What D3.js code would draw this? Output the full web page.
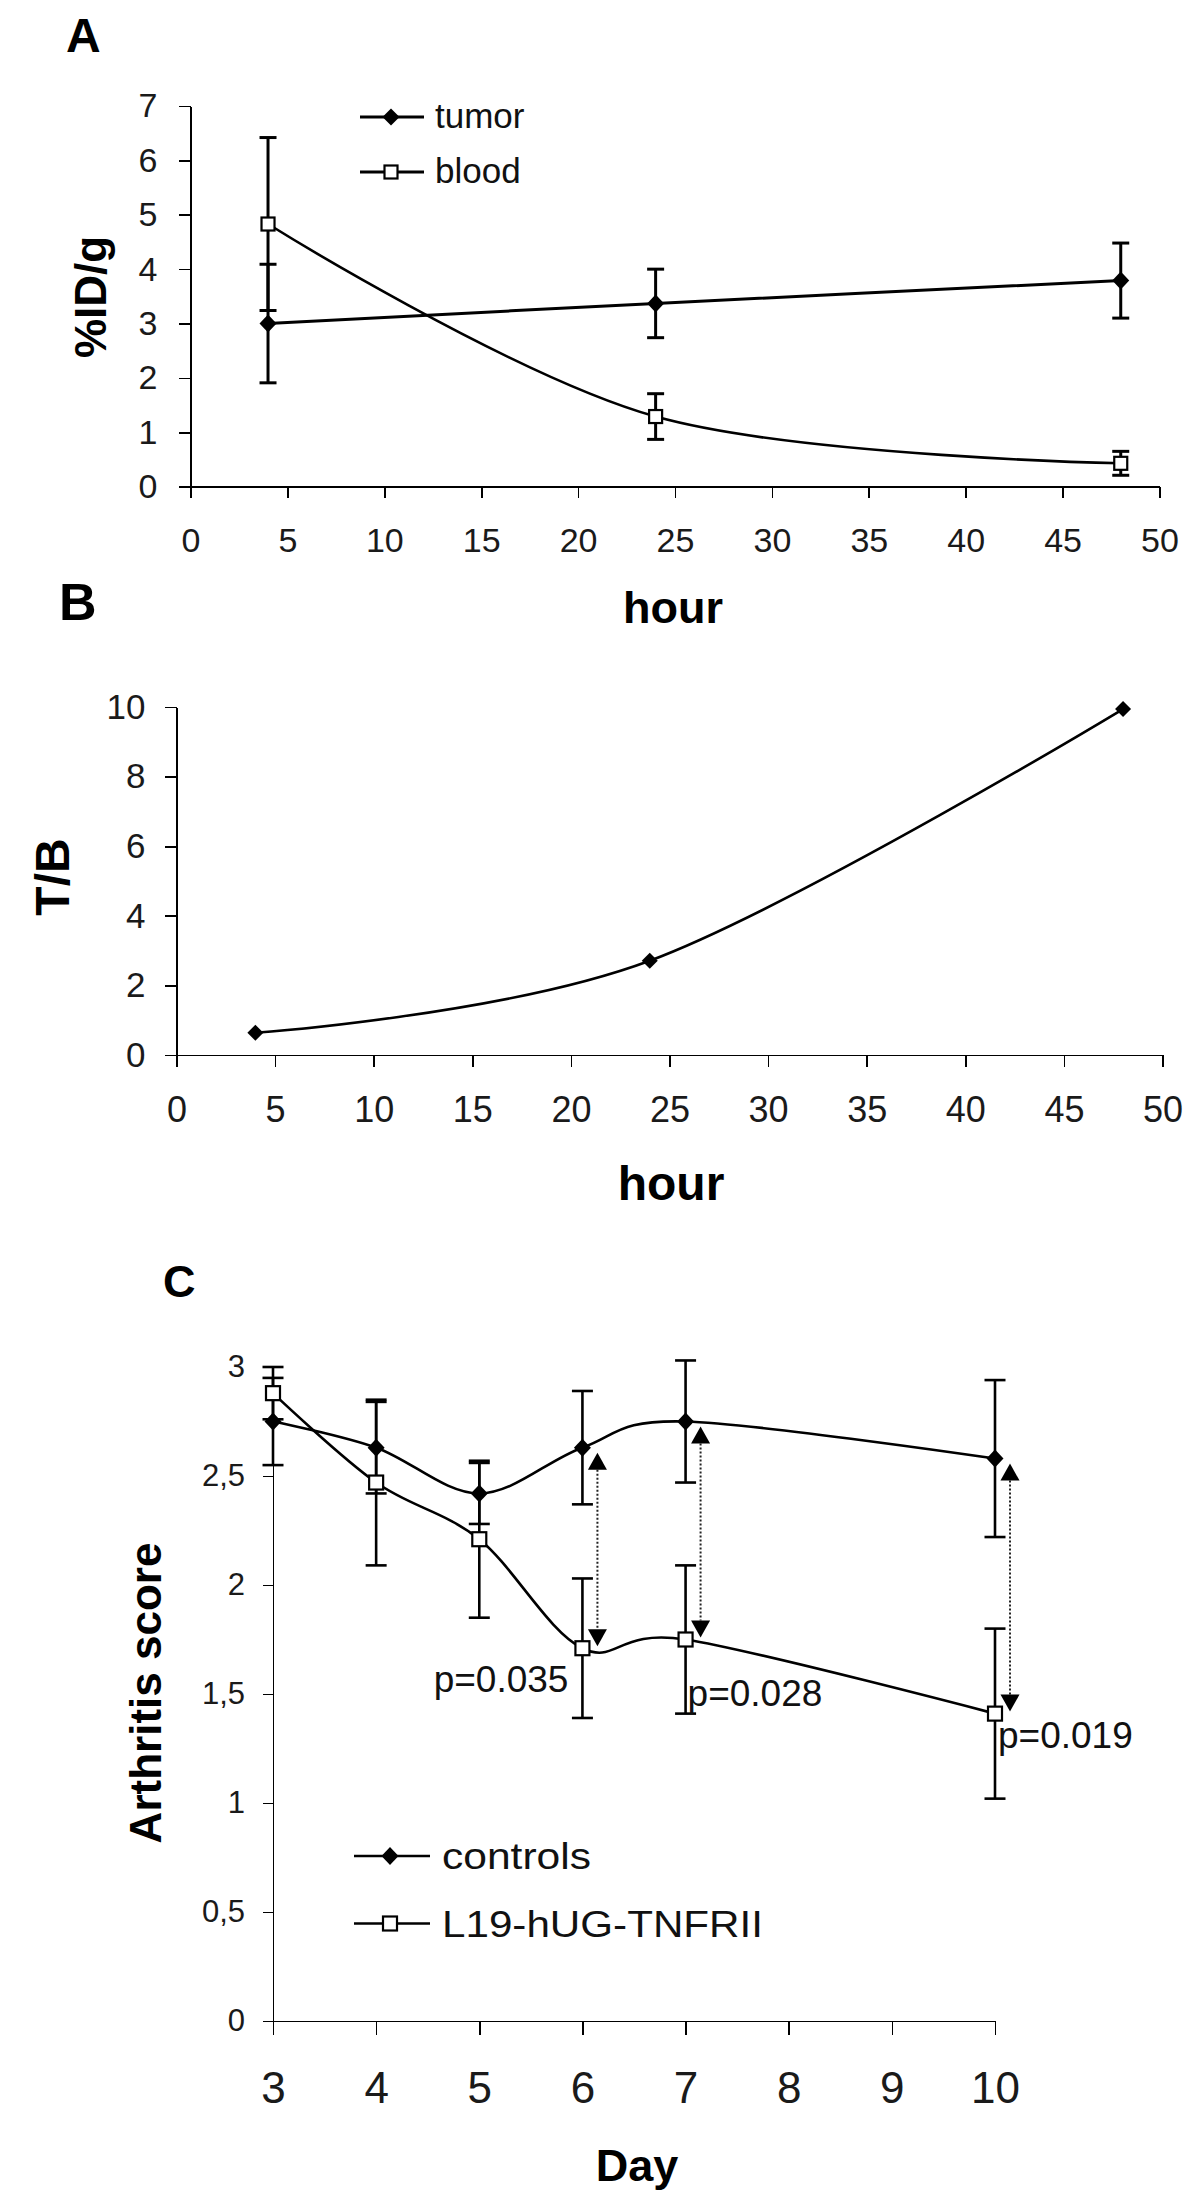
<!DOCTYPE html>
<html>
<head>
<meta charset="utf-8">
<script src="https://cdn.jsdelivr.net/npm/d3@7"></script>
<style>
  html, body { margin: 0; padding: 0; background: #fff; }
  svg { display: block; font-family: "Liberation Sans", Arial, sans-serif; }
  .axis path, .axis line { stroke: #000; stroke-width: 1.6px; shape-rendering: crispEdges; }
  .axis text { fill: #1a1a1a; }
</style>
</head>
<body>
<svg id="chart" width="1200" height="2198"></svg>
<script>
// ---------------- DATA ----------------
// Panel A
const hoursA = [4, 24, 48];
const tumor = [3.0, 3.37, 3.79];
const tumorErr = [1.09, 0.63, 0.69];
const blood = [4.83, 1.29, 0.43];
const bloodErr = [1.59, 0.42, 0.22];
const hourTicks = [0, 5, 10, 15, 20, 25, 30, 35, 40, 45, 50];
const yTicksA = [0, 1, 2, 3, 4, 5, 6, 7];
const legendA = ["tumor", "blood"];

// Panel B
const hoursB = [4, 24, 48];
const tbRatio = [0.64, 2.71, 9.94];
const yTicksB = [0, 2, 4, 6, 8, 10];

// Panel C
const days = [3, 4, 5, 6, 7, 10];
const controls = [2.75, 2.63, 2.42, 2.63, 2.75, 2.58];
const controlsErr = [0.20, 0.21, 0.14, 0.26, 0.28, 0.36];
const l19 = [2.88, 2.47, 2.21, 1.71, 1.75, 1.41];
const l19Err = [0.12, 0.38, 0.36, 0.32, 0.34, 0.39];
const dayTicks = [3, 4, 5, 6, 7, 8, 9, 10];
const yTicksC = [0, 0.5, 1, 1.5, 2, 2.5, 3];
const yTickLabelsC = ["0", "0,5", "1", "1,5", "2", "2,5", "3"];
const pDays = [6, 7, 10];
const pLabels = ["p=0.035", "p=0.028", "p=0.019"];
const legendC = ["controls", "L19-hUG-TNFRII"];

// ---------------- DRAW ----------------
const svg = d3.select("#chart");
const smooth = d3.curveCardinal.tension(0);
const intFmt = d3.format("d");

function diamondPath(w, h) {
  return `M0,${-h}L${w},0L0,${h}L${-w},0Z`;
}

function drawErr(g, xs, ys, errs, x, y, capW, sw) {
  const eg = g.append("g").attr("stroke", "#000").attr("stroke-width", sw).attr("fill", "none");
  xs.forEach((xv, i) => {
    const px = x(xv), top = y(ys[i] + errs[i]), bot = y(ys[i] - errs[i]);
    eg.append("line").attr("x1", px).attr("x2", px).attr("y1", top).attr("y2", bot);
    eg.append("line").attr("x1", px - capW / 2).attr("x2", px + capW / 2).attr("y1", top).attr("y2", top);
    eg.append("line").attr("x1", px - capW / 2).attr("x2", px + capW / 2).attr("y1", bot).attr("y2", bot);
  });
}

function drawLine(g, xs, ys, x, y, sw) {
  const line = d3.line().x(d => x(d[0])).y(d => y(d[1])).curve(smooth);
  g.append("path").attr("d", line(xs.map((v, i) => [v, ys[i]])))
    .attr("fill", "none").attr("stroke", "#000").attr("stroke-width", sw);
}

function drawDiamonds(g, xs, ys, x, y, w, h) {
  xs.forEach((xv, i) => {
    g.append("path").attr("d", diamondPath(w, h))
      .attr("transform", `translate(${x(xv)},${y(ys[i])})`).attr("fill", "#000");
  });
}

function drawSquares(g, xs, ys, x, y, s, sw) {
  xs.forEach((xv, i) => {
    g.append("rect").attr("x", x(xv) - s / 2).attr("y", y(ys[i]) - s / 2)
      .attr("width", s).attr("height", s)
      .attr("fill", "#fff").attr("stroke", "#000").attr("stroke-width", sw);
  });
}

function boldText(x, y, txt, size, anchor, rotate) {
  const t = svg.append("text").attr("font-weight", "bold").attr("font-size", size)
    .attr("fill", "#000").attr("text-anchor", anchor || "start").text(txt);
  if (rotate) t.attr("transform", `translate(${x},${y}) rotate(-90)`);
  else t.attr("x", x).attr("y", y);
  return t;
}

function styleTicks(size) {
  return s => s.selectAll("text").attr("font-size", size).attr("font-family", "Liberation Sans, Arial");
}

// ===== Panel A =====
{
  const x = d3.scaleLinear().domain([0, 50]).range([190.5, 1159.5]);
  const y = d3.scaleLinear().domain([0, 7]).range([486.7, 106]);
  const g = svg.append("g");

  g.append("g").attr("class", "axis").attr("transform", `translate(0,${y(0)})`)
    .call(d3.axisBottom(x).tickValues(hourTicks).tickFormat(intFmt).tickSize(11).tickSizeOuter(0).tickPadding(30))
    .call(styleTicks(34));
  g.append("g").attr("class", "axis").attr("transform", `translate(${x(0)},0)`)
    .call(d3.axisLeft(y).tickValues(yTicksA).tickFormat(intFmt).tickSize(12).tickSizeOuter(0).tickPadding(21))
    .call(styleTicks(34));

  drawLine(g, hoursA, tumor, x, y, 3);
  drawLine(g, hoursA, blood, x, y, 2.6);
  drawErr(g, hoursA, tumor, tumorErr, x, y, 17, 3);
  drawErr(g, hoursA, blood, bloodErr, x, y, 17, 3);
  drawDiamonds(g, hoursA, tumor, x, y, 8.5, 9);
  drawSquares(g, hoursA, blood, x, y, 13, 2.2);

  // legend
  const lg = svg.append("g");
  legendA.forEach((name, i) => {
    const ly = i === 0 ? 117 : 172;
    lg.append("line").attr("x1", 360).attr("x2", 424).attr("y1", ly).attr("y2", ly)
      .attr("stroke", "#000").attr("stroke-width", 3);
    if (i === 0) lg.append("path").attr("d", diamondPath(8.5, 8.5)).attr("transform", `translate(391,${ly})`).attr("fill", "#000");
    else lg.append("rect").attr("x", 384.5).attr("y", ly - 6.5).attr("width", 13).attr("height", 13)
      .attr("fill", "#fff").attr("stroke", "#000").attr("stroke-width", 2.2);
    lg.append("text").attr("x", 435).attr("y", ly + 11).attr("font-size", 35).attr("fill", "#111").text(name);
  });

  boldText(66, 52, "A", 48);
  boldText(673, 623, "hour", 45, "middle");
  boldText(106, 297, "%ID/g", 44, "middle", true);
}

// ===== Panel B =====
{
  const x = d3.scaleLinear().domain([0, 50]).range([176.5, 1162.5]);
  const y = d3.scaleLinear().domain([0, 10]).range([1055, 707]);
  const g = svg.append("g");

  g.append("g").attr("class", "axis").attr("transform", `translate(0,${y(0)})`)
    .call(d3.axisBottom(x).tickValues(hourTicks).tickFormat(intFmt).tickSize(12).tickSizeOuter(0).tickPadding(29))
    .call(styleTicks(36));
  g.append("g").attr("class", "axis").attr("transform", `translate(${x(0)},0)`)
    .call(d3.axisLeft(y).tickValues(yTicksB).tickFormat(intFmt).tickSize(12).tickSizeOuter(0).tickPadding(19))
    .call(styleTicks(35));

  drawLine(g, hoursB, tbRatio, x, y, 2.6);
  drawDiamonds(g, hoursB, tbRatio, x, y, 8, 8);

  boldText(59, 620, "B", 52);
  boldText(671, 1200, "hour", 48, "middle");
  boldText(69, 877, "T/B", 48, "middle", true);
}

// ===== Panel C =====
{
  const x = d3.scaleLinear().domain([3, 10]).range([273, 995]);
  const y = d3.scaleLinear().domain([0, 3]).range([2021, 1367]);
  const g = svg.append("g");

  g.append("g").attr("class", "axis").attr("transform", `translate(0,${y(0)})`)
    .call(d3.axisBottom(x).tickValues(dayTicks).tickFormat(intFmt).tickSize(14).tickSizeOuter(0).tickPadding(37))
    .call(styleTicks(44));
  g.append("g").attr("class", "axis").attr("transform", `translate(${x(3)},0)`)
    .call(d3.axisLeft(y).tickValues(yTicksC).tickFormat((d, i) => yTickLabelsC[i])
      .tickSize(10).tickSizeOuter(0).tickPadding(18))
    .call(styleTicks(31));

  drawLine(g, days, controls, x, y, 2.6);
  drawLine(g, days, l19, x, y, 2.6);
  drawErr(g, days, controls, controlsErr, x, y, 21, 2.6);
  drawErr(g, days, l19, l19Err, x, y, 21, 2.6);
  drawDiamonds(g, days, controls, x, y, 8.5, 9);
  drawSquares(g, days, l19, x, y, 14, 2.2);

  // significance arrows
  const ag = svg.append("g");
  pDays.forEach((dd) => {
    const idx = days.indexOf(dd);
    const ax = x(dd) + 15;
    const topTip = y(controls[idx]) + 5;
    const botTip = y(l19[idx]) - 2;
    const hw = 9.5, hh = 17;
    ag.append("line").attr("x1", ax).attr("x2", ax).attr("y1", topTip + hh).attr("y2", botTip - hh)
      .attr("stroke", "#222").attr("stroke-width", 2).attr("stroke-dasharray", "2,2");
    ag.append("path").attr("d", `M${ax},${topTip}L${ax + hw},${topTip + hh}L${ax - hw},${topTip + hh}Z`).attr("fill", "#000");
    ag.append("path").attr("d", `M${ax},${botTip}L${ax + hw},${botTip - hh}L${ax - hw},${botTip - hh}Z`).attr("fill", "#000");
  });

  // p-value annotations
  const pPos = [
    { dx: -14, dy: 44, anchor: "end" },
    { dx: 2, dy: 66, anchor: "start" },
    { dx: 3, dy: 34, anchor: "start" }
  ];
  pDays.forEach((dd, i) => {
    const idx = days.indexOf(dd);
    svg.append("text").attr("x", x(dd) + pPos[i].dx).attr("y", y(l19[idx]) + pPos[i].dy)
      .attr("text-anchor", pPos[i].anchor).attr("font-size", 37).attr("fill", "#111").text(pLabels[i]);
  });

  // legend
  const lg = svg.append("g");
  const lw = [149, 321];
  legendC.forEach((name, i) => {
    const ly = i === 0 ? 1856 : 1923.5;
    lg.append("line").attr("x1", 354).attr("x2", 430).attr("y1", ly).attr("y2", ly)
      .attr("stroke", "#000").attr("stroke-width", 2.6);
    if (i === 0) lg.append("path").attr("d", diamondPath(8.5, 9)).attr("transform", `translate(390,${ly})`).attr("fill", "#000");
    else lg.append("rect").attr("x", 383).attr("y", ly - 7).attr("width", 14).attr("height", 14)
      .attr("fill", "#fff").attr("stroke", "#000").attr("stroke-width", 2.2);
    lg.append("text").attr("x", 442).attr("y", ly + 13).attr("font-size", 37).attr("fill", "#111")
      .attr("textLength", lw[i]).attr("lengthAdjust", "spacingAndGlyphs").text(name);
  });

  boldText(163, 1297, "C", 45);
  boldText(637, 2181, "Day", 45, "middle");
  boldText(161, 1693, "Arthritis score", 44, "middle", true);
}
</script>
</body>
</html>
